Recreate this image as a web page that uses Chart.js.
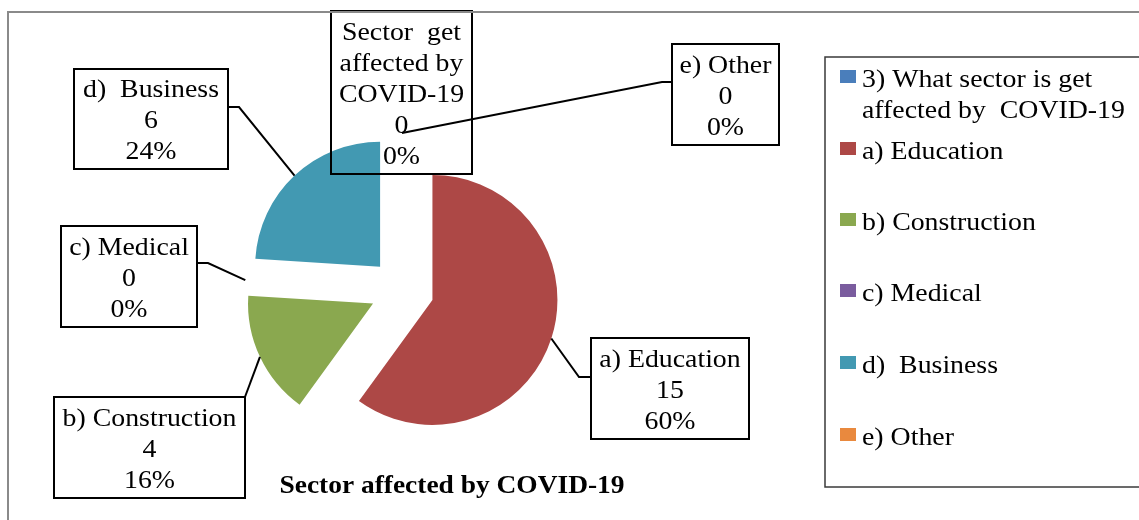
<!DOCTYPE html>
<html><head><meta charset="utf-8">
<script src="https://cdn.jsdelivr.net/npm/chart.js@4.4.1/dist/chart.umd.min.js"></script>
<style>html,body{margin:0;padding:0;background:#fff;} #wrap{width:1139px;height:520px;position:relative;overflow:hidden;}</style>
</head><body><div id="wrap"><canvas id="c" width="1139" height="520"></canvas></div>
<script>
// ---- data ----
const categories = ["3) What sector is get affected by  COVID-19", "a) Education", "b) Construction", "c) Medical", "d)  Business", "e) Other"];
const values = [0, 15, 4, 0, 6, 0];
const legendLines = [["3) What sector is get", "affected by  COVID-19"], ["a) Education"], ["b) Construction"], ["c) Medical"], ["d)  Business"], ["e) Other"]];
const dataLabelNames = [["Sector  get", "affected by", "COVID-19"], ["a) Education"], ["b) Construction"], ["c) Medical"], ["d)  Business"], ["e) Other"]];
const chartTitle = "Sector affected by COVID-19";

// ---- styles / layout ----
const colors = ["#4A7EBB", "#AD4846", "#8AA84F", "#7A5C9E", "#4299B2", "#E9893E"];
const EXPLODE = 32;
const RADIUS = 125;
const FONT = "26px 'Liberation Serif', 'Times New Roman', serif";
const FONT_B = "bold 26px 'Liberation Serif', 'Times New Roman', serif";
const SX = 1.07;
// label boxes: rect + leader path (from box toward slice); anchor added from arc geometry
const labelLayout = [
  {x: 331, y: 11, w: 141, h: 163, path: null},
  {x: 591, y: 338, w: 158, h: 101, path: [[591, 377], [579, 377]]},
  {x: 54, y: 397, w: 191, h: 101, path: [[245, 397]]},
  {x: 61, y: 226, w: 136, h: 101, path: [[197, 263], [208, 263]]},
  {x: 74, y: 69, w: 154, h: 100, path: [[228, 107], [239, 107]]},
  {x: 672, y: 44, w: 107, h: 101, path: [[672, 82], [662, 82]]}
];

const total = values.reduce((a, b) => a + b, 0);

function txt(ctx, s, x, y, align, font, sx) {
  ctx.save();
  ctx.font = font; ctx.textBaseline = 'alphabetic'; ctx.fillStyle = '#000';
  ctx.translate(x, y); ctx.scale(sx, 1); ctx.textAlign = align;
  ctx.fillText(s, 0, 0);
  ctx.restore();
}

// explode every slice by the same distance along its mid-angle (Excel style)
const explode = {
  id: 'explode',
  afterDatasetUpdate(chart, args) {
    const meta = chart.getDatasetMeta(args.index);
    meta.data.forEach(arc => {
      const mid = (arc.startAngle + arc.endAngle) / 2;
      arc.x += Math.cos(mid) * EXPLODE;
      arc.y += Math.sin(mid) * EXPLODE;
    });
  }
};

const decor = {
  id: 'decor',
  afterDatasetsDraw(chart) {
    const ctx = chart.ctx;
    const meta = chart.getDatasetMeta(0);
    labelLayout.forEach((lb, i) => {
      const arc = meta.data[i];
      const mid = (arc.startAngle + arc.endAngle) / 2;
      const ax = arc.x + Math.cos(mid) * arc.outerRadius, ay = arc.y + Math.sin(mid) * arc.outerRadius;
      if (lb.path) {
        ctx.save();
        ctx.strokeStyle = '#000'; ctx.lineWidth = 2;
        ctx.beginPath();
        ctx.moveTo(lb.path[0][0], lb.path[0][1]);
        for (let k = 1; k < lb.path.length; k++) ctx.lineTo(lb.path[k][0], lb.path[k][1]);
        ctx.lineTo(ax, ay);
        ctx.stroke();
        ctx.restore();
      }
      ctx.save();
      ctx.strokeStyle = '#000'; ctx.lineWidth = 2;
      ctx.strokeRect(lb.x, lb.y, lb.w, lb.h);
      ctx.restore();
      const lines = [...dataLabelNames[i], String(values[i]), Math.round(values[i] / total * 100) + '%'];
      const cx = lb.x + lb.w / 2;
      const lastBase = lb.y + lb.h - 10;
      lines.forEach((s, k) => {
        txt(ctx, s, cx, lastBase - (lines.length - 1 - k) * 31, 'center', FONT, SX);
      });
    });
    // title
    txt(ctx, chartTitle, 452, 493, 'center', FONT_B, 1.055);
    // legend
    ctx.save();
    ctx.strokeStyle = '#3a3a3a'; ctx.lineWidth = 1.5;
    ctx.strokeRect(825, 57, 400, 430);
    ctx.restore();
    const legendBase = [87, 159, 230, 301, 373, 445];
    categories.forEach((c, i) => {
      const b = legendBase[i];
      ctx.fillStyle = colors[i];
      ctx.fillRect(840, b - 17, 16, 13);
      legendLines[i].forEach((s, k) => txt(ctx, s, 862, b + k * 30.5, 'left', FONT, SX));
    });
    // outer chart border
    ctx.save();
    ctx.strokeStyle = '#8a8a8a'; ctx.lineWidth = 2;
    ctx.strokeRect(8, 12, 1200, 600);
    ctx.restore();
  }
};

new Chart(document.getElementById('c'), {
  type: 'pie',
  data: {
    labels: categories,
    datasets: [{
      data: values,
      backgroundColor: colors,
      borderWidth: 0,
      offset: 0
    }]
  },
  options: {
    responsive: false,
    devicePixelRatio: 1,
    animation: false,
    radius: RADIUS,
    layout: {padding: {left: 200, right: 535, top: 100, bottom: 40}},
    plugins: {legend: {display: false}, title: {display: false}, tooltip: {enabled: false}},
    events: []
  },
  plugins: [explode, decor]
});
</script>
</body></html>
